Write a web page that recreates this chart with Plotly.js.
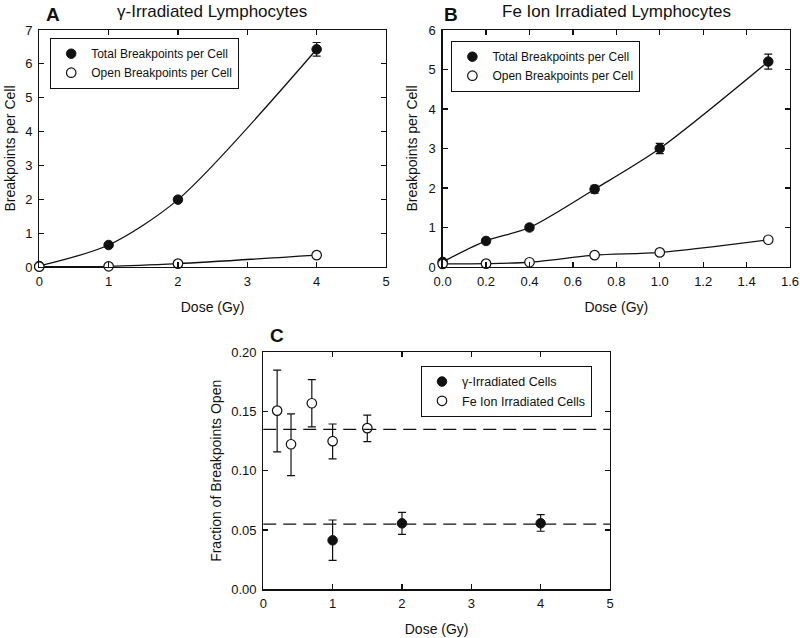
<!DOCTYPE html>
<html><head><meta charset="utf-8">
<script src="https://cdn.plot.ly/plotly-3.0.1.min.js"></script>
<style>html,body{margin:0;padding:0;background:#fff;}#chart{width:800px;height:638px;}</style>
</head><body><div id="chart"></div>
<script>
// Panel A: gamma-irradiated lymphocytes
const doseA = [0, 1, 2, 4];
const totalA = [0.03, 0.65, 1.99, 6.43];
const totalAErr = [0.02, 0.04, 0.06, 0.2];
const openA = [0.01, 0.02, 0.1, 0.35];
const openAErr = [0.005, 0.01, 0.02, 0.03];

// Panel B: Fe ion irradiated lymphocytes
const doseB = [0, 0.2, 0.4, 0.7, 1.0, 1.5];
const totalB = [0.13, 0.66, 1.0, 1.97, 3.0, 5.2];
const totalBErr = [0.03, 0.06, 0.07, 0.1, 0.13, 0.19];
const openB = [0.08, 0.085, 0.12, 0.3, 0.37, 0.69];
const openBErr = [0.01, 0.01, 0.02, 0.03, 0.03, 0.05];

// Panel C: fraction of breakpoints open
const doseCGamma = [1, 2, 4];
const fracGamma = [0.0413, 0.0557, 0.0557];
const fracGammaUp = [0.0172, 0.0093, 0.0073];
const fracGammaDown = [0.0168, 0.0093, 0.0067];
const doseCFe = [0.2, 0.4, 0.7, 1.0, 1.5];
const fracFe = [0.1508, 0.1224, 0.157, 0.125, 0.136];
const fracFeUp = [0.0342, 0.0256, 0.02, 0.0145, 0.011];
const fracFeDown = [0.0348, 0.0264, 0.02, 0.015, 0.0114];
const meanGamma = 0.055;
const meanFe = 0.135;

const legendTotal = 'Total Breakpoints per Cell';
const legendOpen = 'Open Breakpoints per Cell';

const ink = '#111';
const fnt = 'Liberation Sans, Arial, sans-serif';
const filled = {symbol: 'circle', size: 9.5, color: ink, line: {color: ink, width: 1}};
const hollow = {symbol: 'circle', size: 9.5, color: '#fff', line: {color: ink, width: 1.2}};
function eb(arr){ return {type: 'data', array: arr, visible: true, color: ink, thickness: 1.2, width: 4}; }
function eba(up, down){ return {type: 'data', symmetric: false, array: up, arrayminus: down, visible: true, color: ink, thickness: 1.2, width: 4}; }
const curve = {color: ink, width: 1.3, shape: 'spline', smoothing: 0.8};

const traces = [
  // A
  {x: doseA, y: totalA, xaxis: 'x', yaxis: 'y', mode: 'lines', line: curve, showlegend: false, hoverinfo: 'skip', cliponaxis: false},
  {x: doseA, y: openA, xaxis: 'x', yaxis: 'y', mode: 'lines', line: curve, showlegend: false, hoverinfo: 'skip', cliponaxis: false},
  {x: doseA, y: totalA, xaxis: 'x', yaxis: 'y', mode: 'markers', marker: filled, error_y: eb(totalAErr), name: legendTotal, legend: 'legend', cliponaxis: false},
  {x: doseA, y: openA, xaxis: 'x', yaxis: 'y', mode: 'markers', marker: hollow, error_y: eb(openAErr), name: legendOpen, legend: 'legend', cliponaxis: false},
  // B
  {x: doseB, y: totalB, xaxis: 'x2', yaxis: 'y2', mode: 'lines', line: curve, showlegend: false, hoverinfo: 'skip', cliponaxis: false},
  {x: doseB, y: openB, xaxis: 'x2', yaxis: 'y2', mode: 'lines', line: curve, showlegend: false, hoverinfo: 'skip', cliponaxis: false},
  {x: doseB, y: totalB, xaxis: 'x2', yaxis: 'y2', mode: 'markers', marker: filled, error_y: eb(totalBErr), name: legendTotal, legend: 'legend2', cliponaxis: false},
  {x: doseB, y: openB, xaxis: 'x2', yaxis: 'y2', mode: 'markers', marker: hollow, error_y: eb(openBErr), name: legendOpen, legend: 'legend2', cliponaxis: false},
  // C
  {x: doseCGamma, y: fracGamma, xaxis: 'x3', yaxis: 'y3', mode: 'markers', marker: filled, error_y: eba(fracGammaUp, fracGammaDown), name: 'γ-Irradiated Cells', legend: 'legend3', cliponaxis: false},
  {x: doseCFe, y: fracFe, xaxis: 'x3', yaxis: 'y3', mode: 'markers', marker: hollow, error_y: eba(fracFeUp, fracFeDown), name: 'Fe Ion Irradiated Cells', legend: 'legend3', cliponaxis: false}
];

function ax(domain, range, dtick, fmt, anchor, title, standoff, labelGap){
  return {domain: domain, range: range, dtick: dtick, tick0: 0, tickformat: fmt, anchor: anchor,
    showline: true, mirror: 'ticks', linecolor: ink, linewidth: 1.2, ticks: 'inside', ticklen: 5, tickwidth: 1.2, tickcolor: ink,
    ticklabelstandoff: labelGap,
    showgrid: false, zeroline: false, tickfont: {family: fnt, size: 13, color: ink},
    title: {text: title, font: {family: fnt, size: 14, color: ink}, standoff: standoff}, fixedrange: true};
}

function leg(x, y, size){
  return {x: x, y: y, xanchor: 'left', yanchor: 'top', bgcolor: '#fff', bordercolor: ink, borderwidth: 1.2,
    font: {family: fnt, size: size, color: ink}, tracegroupgap: 0, itemclick: false};
}

function note(text, px, py, size){
  return {text: text, x: px/800, y: 1 - py/638, xref: 'paper', yref: 'paper', xanchor: 'center', yanchor: 'middle',
    showarrow: false, font: {family: fnt, size: size, color: ink}};
}

const layout = {
  width: 800, height: 638, margin: {l: 0, r: 0, t: 0, b: 0}, paper_bgcolor: '#fff', plot_bgcolor: '#fff',
  xaxis: ax([0.0491, 0.4825], [0, 5], 1, '', 'y', 'Dose (Gy)', 14, 2),
  yaxis: ax([0.5815, 0.953], [0, 7], 1, '', 'x', 'Breakpoints per Cell', 6, 3),
  xaxis2: ax([0.5533, 0.9875], [0, 1.6], 0.2, '.1f', 'y2', 'Dose (Gy)', 14, 2),
  yaxis2: ax([0.5815, 0.953], [0, 6], 1, '', 'x2', 'Breakpoints per Cell', 7, 3),
  xaxis3: ax([0.3291, 0.7625], [0, 5], 1, '', 'y3', 'Dose (Gy)', 14, 2),
  yaxis3: ax([0.0763, 0.4478], [0, 0.2], 0.05, '.2f', 'x3', 'Fraction of Breakpoints Open', 6, 3),
  legend: leg(0.0625, 0.9404, 12),
  legend2: leg(0.564, 0.9357, 12),
  legend3: leg(0.526, 0.4268, 12.5),
  shapes: [
    {type: 'line', xref: 'x3 domain', yref: 'y3', x0: 0, x1: 1, y0: meanFe, y1: meanFe, line: {color: ink, width: 1.2, dash: '13px,7px'}},
    {type: 'line', xref: 'x3 domain', yref: 'y3', x0: 0, x1: 1, y0: meanGamma, y1: meanGamma, line: {color: ink, width: 1.2, dash: '13px,7px'}}
  ],
  annotations: [
    note('<b>A</b>', 53, 14, 19),
    note('<b>B</b>', 451, 14, 19),
    note('<b>C</b>', 277, 335, 19),
    note('γ-Irradiated Lymphocytes', 212, 11, 17),
    note('Fe Ion Irradiated Lymphocytes', 616, 11, 17)
  ]
};

Plotly.newPlot('chart', traces, layout, {staticPlot: true, displayModeBar: false});
</script>
</body></html>
